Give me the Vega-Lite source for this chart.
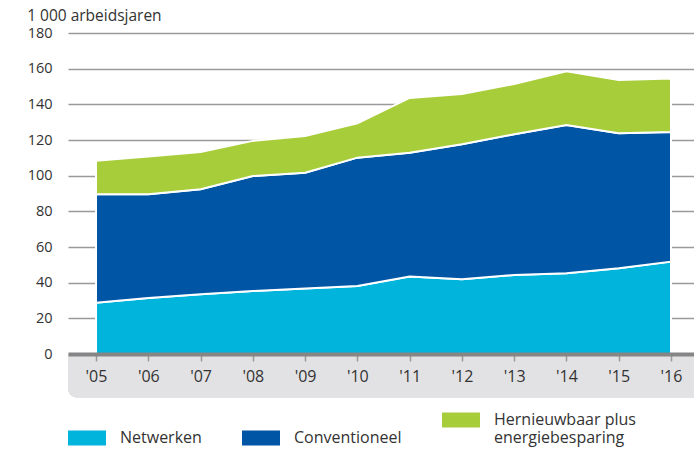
{
  "$schema": "https://vega.github.io/schema/vega-lite/v6.json",
  "width": 626,
  "height": 321,
  "autosize": "none",
  "padding": {"left": 68, "top": 33, "right": 0, "bottom": 95},
  "background": "white",
  "title": {"text": "1 000 arbeidsjaren", "anchor": "start", "frame": "bounds", "fontSize": 15.5, "fontWeight": "normal", "font": "Open Sans", "color": "#333333", "offset": 1},
  "config": {
    "view": {"stroke": null},
    "font": "Open Sans",
    "axisX": {
      "values": [2005, 2006, 2007, 2008, 2009, 2010, 2011, 2012, 2013, 2014, 2015, 2016],
      "labelExpr": "\"'\" + substring(toString(datum.value), 2)",
      "title": null, "grid": false, "labelOverlap": false,
      "domainColor": "#868686", "domainWidth": 4,
      "tickColor": "#9a9a9a", "tickSize": 7, "tickWidth": 1.5,
      "labelFontSize": 16, "labelColor": "#333333", "labelPadding": 7, "labelFont": "Open Sans"
    },
    "axisY": {
      "values": [0, 20, 40, 60, 80, 100, 120, 140, 160, 180],
      "title": null, "domain": false, "ticks": false, "labelOverlap": false,
      "grid": true, "gridColor": "#9a9a9a", "gridWidth": 1.5,
      "labelFontSize": 14.5, "labelColor": "#333333", "labelPadding": 16, "labelFont": "Open Sans"
    }
  },
  "data": {"values": [
    {"jaar": 2005, "sector": "Netwerken", "rang": 1, "waarde": 28.8},
    {"jaar": 2006, "sector": "Netwerken", "rang": 1, "waarde": 31.4},
    {"jaar": 2007, "sector": "Netwerken", "rang": 1, "waarde": 33.5},
    {"jaar": 2008, "sector": "Netwerken", "rang": 1, "waarde": 35.3},
    {"jaar": 2009, "sector": "Netwerken", "rang": 1, "waarde": 36.7},
    {"jaar": 2010, "sector": "Netwerken", "rang": 1, "waarde": 38.1},
    {"jaar": 2011, "sector": "Netwerken", "rang": 1, "waarde": 43.4},
    {"jaar": 2012, "sector": "Netwerken", "rang": 1, "waarde": 41.9},
    {"jaar": 2013, "sector": "Netwerken", "rang": 1, "waarde": 44.3},
    {"jaar": 2014, "sector": "Netwerken", "rang": 1, "waarde": 45.3},
    {"jaar": 2015, "sector": "Netwerken", "rang": 1, "waarde": 48.1},
    {"jaar": 2016, "sector": "Netwerken", "rang": 1, "waarde": 51.8},
    {"jaar": 2005, "sector": "Conventioneel", "rang": 2, "waarde": 60.8},
    {"jaar": 2006, "sector": "Conventioneel", "rang": 2, "waarde": 58.2},
    {"jaar": 2007, "sector": "Conventioneel", "rang": 2, "waarde": 58.9},
    {"jaar": 2008, "sector": "Conventioneel", "rang": 2, "waarde": 64.5},
    {"jaar": 2009, "sector": "Conventioneel", "rang": 2, "waarde": 65.0},
    {"jaar": 2010, "sector": "Conventioneel", "rang": 2, "waarde": 72.0},
    {"jaar": 2011, "sector": "Conventioneel", "rang": 2, "waarde": 69.5},
    {"jaar": 2012, "sector": "Conventioneel", "rang": 2, "waarde": 75.7},
    {"jaar": 2013, "sector": "Conventioneel", "rang": 2, "waarde": 78.9},
    {"jaar": 2014, "sector": "Conventioneel", "rang": 2, "waarde": 83.1},
    {"jaar": 2015, "sector": "Conventioneel", "rang": 2, "waarde": 75.7},
    {"jaar": 2016, "sector": "Conventioneel", "rang": 2, "waarde": 72.7},
    {"jaar": 2005, "sector": "Hernieuwbaar plus energiebesparing", "rang": 3, "waarde": 18.7},
    {"jaar": 2006, "sector": "Hernieuwbaar plus energiebesparing", "rang": 3, "waarde": 21.1},
    {"jaar": 2007, "sector": "Hernieuwbaar plus energiebesparing", "rang": 3, "waarde": 20.9},
    {"jaar": 2008, "sector": "Hernieuwbaar plus energiebesparing", "rang": 3, "waarde": 19.7},
    {"jaar": 2009, "sector": "Hernieuwbaar plus energiebesparing", "rang": 3, "waarde": 20.6},
    {"jaar": 2010, "sector": "Hernieuwbaar plus energiebesparing", "rang": 3, "waarde": 19.3},
    {"jaar": 2011, "sector": "Hernieuwbaar plus energiebesparing", "rang": 3, "waarde": 30.7},
    {"jaar": 2012, "sector": "Hernieuwbaar plus energiebesparing", "rang": 3, "waarde": 28.2},
    {"jaar": 2013, "sector": "Hernieuwbaar plus energiebesparing", "rang": 3, "waarde": 28.2},
    {"jaar": 2014, "sector": "Hernieuwbaar plus energiebesparing", "rang": 3, "waarde": 30.2},
    {"jaar": 2015, "sector": "Hernieuwbaar plus energiebesparing", "rang": 3, "waarde": 29.9},
    {"jaar": 2016, "sector": "Hernieuwbaar plus energiebesparing", "rang": 3, "waarde": 30.0}
  ]},
  "layer": [
    {
      "mark": {"type": "rect", "color": "#e2e2e4", "cornerRadiusBottomLeft": 9, "clip": false},
      "encoding": {
        "x": {"datum": 2004.464, "type": "quantitative", "scale": {"domain": [2004.464, 2016.44], "nice": false, "zero": false}, "axis": {"zindex": 1}},
        "x2": {"datum": 2016.44},
        "y": {"datum": -0.5, "type": "quantitative", "scale": {"domain": [0, 180], "nice": false}},
        "y2": {"datum": -24.2}
      }
    },
    {
      "mark": {"type": "area", "stroke": "white", "strokeWidth": 2, "opacity": 1},
      "encoding": {
        "x": {
          "field": "jaar", "type": "quantitative",
          "scale": {"domain": [2004.464, 2016.44], "nice": false, "zero": false},
          "axis": {"zindex": 1}
        },
        "y": {
          "field": "waarde", "type": "quantitative", "stack": "zero",
          "scale": {"domain": [0, 180], "nice": false}
        },
        "order": {"field": "rang", "type": "quantitative"},
        "color": {
          "field": "sector", "type": "nominal",
          "scale": {
            "domain": ["Netwerken", "Conventioneel", "Hernieuwbaar plus energiebesparing"],
            "range": ["#00b4dc", "#0055a5", "#a8cd3a"]
          },
          "legend": {
            "title": null, "orient": "none", "legendX": 0, "legendY": 368,
            "direction": "horizontal", "columns": 3, "columnPadding": 40,
            "symbolType": "M-1,-0.395H1V0.395H-1Z", "symbolSize": 1444, "symbolStrokeWidth": 0, "symbolOpacity": 1,
            "labelOffset": 14, "labelFontSize": 16, "labelColor": "#333333", "labelFont": "Open Sans",
            "labelLimit": 300, "labelBaseline": "middle",
            "labelExpr": "datum.label == 'Hernieuwbaar plus energiebesparing' ? ['Hernieuwbaar plus', 'energiebesparing', ''] : datum.label"
          }
        }
      }
    }
  ]
}
